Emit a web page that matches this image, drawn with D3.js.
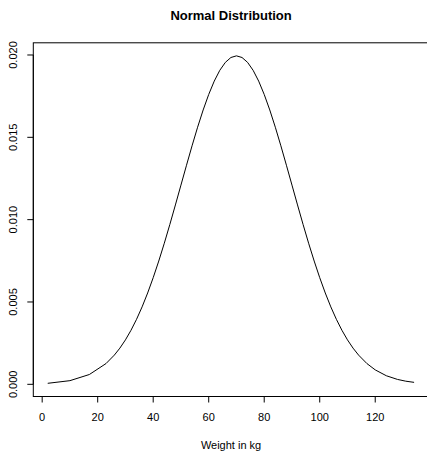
<!DOCTYPE html>
<html><head><meta charset="utf-8">
<script src="https://cdn.jsdelivr.net/npm/d3@7"></script>
<style>body{margin:0;background:#fff}svg{display:block}text{font-family:"Liberation Sans",Arial,sans-serif}</style>
</head><body>
<script>
const weights = [2,10,17,23,26,28,30,32,34,36,38,40,42,44,46,48,50,52,54,56,58,60,62,64,66,68,70,72,74,76,78,80,82,84,86,88,90,92,94,96,98,100,102,104,106,108,110,112,114,117,120,124,128,131,134];
const density = [0.0000616,0.0002216,0.0005957,0.0012609,0.0017737,0.0021992,0.0026995,0.0032808,0.0039475,0.0047025,0.0055461,0.0064759,0.0074864,0.0085684,0.0097093,0.0108926,0.0120985,0.0133042,0.0144845,0.0156126,0.0166613,0.0176031,0.0184135,0.0190694,0.0195520,0.0198475,0.0199471,0.0198475,0.0195520,0.0190694,0.0184135,0.0176031,0.0166613,0.0156126,0.0144845,0.0133042,0.0120985,0.0108926,0.0097093,0.0085684,0.0074864,0.0064759,0.0055461,0.0047025,0.0039475,0.0032808,0.0026995,0.0021992,0.0017737,0.0012609,0.0008764,0.0005210,0.0002976,0.0001906,0.0001192];
const xTicks = [0,20,40,60,80,100,120];
const yTicks = [0,0.005,0.010,0.015,0.020];
const yTickLabels = ["0.000","0.005","0.010","0.015","0.020"];

const W=427,H=451;
const L=33.3,R=428.8,T=42.8,B=396.5;
const svg=d3.select("body").append("svg").attr("width",W).attr("height",H);
const x=d3.scaleLinear().domain([-3.2,139.3]).range([L,R]);
const y=d3.scaleLinear().domain([-0.00074,0.02074]).range([B,T]);

svg.append("rect").attr("x",L).attr("y",T).attr("width",R-L).attr("height",B-T)
  .attr("fill","none").attr("stroke","#000").attr("stroke-width",1);

const line=d3.line().x((d,i)=>x(weights[i])).y(d=>y(d));
svg.append("path").datum(density).attr("d",line).attr("fill","none").attr("stroke","#000").attr("stroke-width",1);

// x axis
const xa=svg.append("g");
xa.append("line").attr("x1",x(0)).attr("x2",x(120)).attr("y1",B).attr("y2",B).attr("stroke","#000");
xTicks.forEach(t=>{
  xa.append("line").attr("x1",x(t)).attr("x2",x(t)).attr("y1",B).attr("y2",B+6).attr("stroke","#000");
  xa.append("text").attr("x",x(t)).attr("y",421).attr("text-anchor","middle").attr("font-size",11).text(t);
});
// y axis
const ya=svg.append("g");
ya.append("line").attr("x1",L).attr("x2",L).attr("y1",y(0)).attr("y2",y(0.02)).attr("stroke","#000");
yTicks.forEach((t,i)=>{
  ya.append("line").attr("x1",L-6).attr("x2",L).attr("y1",y(t)).attr("y2",y(t)).attr("stroke","#000");
  ya.append("text").attr("transform",`translate(17,${y(t)}) rotate(-90)`).attr("text-anchor","middle")
    .attr("font-size",11).text(yTickLabels[i]);
});
svg.append("text").attr("x",(L+R)/2).attr("y",19.5).attr("text-anchor","middle")
  .attr("font-size",13).attr("font-weight","bold").text("Normal Distribution");
svg.append("text").attr("x",(L+R)/2).attr("y",448.5).attr("text-anchor","middle")
  .attr("font-size",11).text("Weight in kg");
</script>
</body></html>
